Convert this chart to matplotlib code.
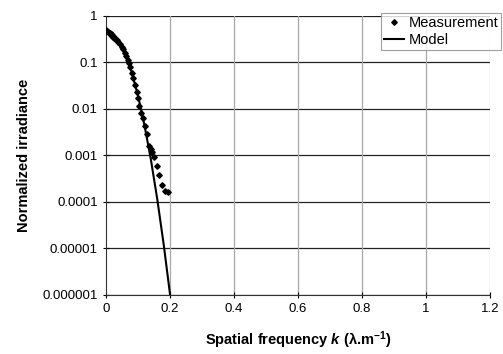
import matplotlib
matplotlib.use("Agg")
from matplotlib import pyplot as plt

plt.rcParams['font.family'] = ['Liberation Sans', 'DejaVu Sans']
plt.rcParams['mathtext.fontset'] = 'custom'
plt.rcParams['mathtext.rm'] = 'Liberation Sans'
plt.rcParams['mathtext.it'] = 'Liberation Sans:italic'
plt.rcParams['mathtext.bf'] = 'Liberation Sans:bold'
plt.rcParams['mathtext.bfit'] = 'Liberation Sans:italic:bold'

# measured points (k, normalized irradiance)
meas_k = [0.0, 0.004, 0.007, 0.011, 0.015, 0.018, 0.022, 0.026, 0.029, 0.033,
          0.038, 0.043, 0.049, 0.054, 0.059, 0.063, 0.067, 0.071, 0.075, 0.080,
          0.085, 0.091, 0.096, 0.100, 0.104, 0.108, 0.115, 0.122, 0.129, 0.135,
          0.139, 0.143, 0.150, 0.158, 0.166, 0.174, 0.184, 0.195]
meas_y = [0.50, 0.48, 0.45, 0.42, 0.39, 0.37, 0.35, 0.33, 0.32, 0.30,
          0.28, 0.25, 0.22, 0.19, 0.16, 0.135, 0.11, 0.095, 0.081, 0.059,
          0.046, 0.033, 0.023, 0.017, 0.0115, 0.0081, 0.0063, 0.0042, 0.0029, 0.0016,
          0.0014, 0.0012, 0.00093, 0.00059, 0.00037, 0.00023, 0.00017, 0.00016]

# model curve
model_k = [0.0, 0.02, 0.04, 0.06, 0.08, 0.10, 0.12, 0.14, 0.16, 0.18, 0.20]
model_y = [0.50, 0.44, 0.30, 0.154, 0.061, 0.0188, 0.0044, 0.00081, 0.000113, 0.0000121, 0.000001]

y_ticks = [1e-6, 1e-5, 1e-4, 1e-3, 1e-2, 1e-1, 1]
y_labels = ["0.000001", "0.00001", "0.0001", "0.001", "0.01", "0.1", "1"]
x_ticks = [0, 0.2, 0.4, 0.6, 0.8, 1, 1.2]
x_labels = ["0", "0.2", "0.4", "0.6", "0.8", "1", "1.2"]

fig = plt.figure(figsize=(5.03, 3.54), dpi=100)
ax = fig.add_axes([0.211, 0.167, 0.763, 0.788])

ax.set_yscale('log')
ax.set_xlim(0, 1.2)
ax.set_ylim(1e-6, 1)

# gridlines: black horizontal, grey vertical
for yv in y_ticks:
    ax.axhline(yv, color='#222222', lw=0.9, zorder=1)
for xv in x_ticks[1:]:
    ax.axvline(xv, color='#a8a8a8', lw=0.9, zorder=1)

ax.plot(model_k, model_y, color='black', lw=1.5, label='Model', zorder=3)
ax.plot(meas_k, meas_y, linestyle='None', marker='D', markersize=2.8,
        color='black', label='Measurement', zorder=4)

ax.set_yticks(y_ticks)
ax.set_yticklabels(y_labels)
ax.minorticks_off()
ax.set_xticks(x_ticks)
ax.set_xticklabels(x_labels)
ax.tick_params(axis='both', direction='inout', length=5, width=0.8,
               labelsize=9.5, colors='black')

for s in ['top', 'right']:
    ax.spines[s].set_visible(False)
ax.spines['left'].set_color('#333333')
ax.spines['bottom'].set_color('#333333')

ax.set_ylabel('Normalized irradiance', fontsize=10.5, fontweight='bold', labelpad=8)
ax.set_xlabel(r'Spatial frequency $\mathbfit{k}$ (λ.m$^{\mathbf{-1}}$)',
              fontsize=10.5, fontweight='bold', labelpad=10)

handles, labels = ax.get_legend_handles_labels()
leg = ax.legend(handles[::-1], labels[::-1], loc='upper right',
                bbox_to_anchor=(1.03, 1.01), fontsize=10.5, frameon=True,
                fancybox=False, edgecolor='#888888', borderpad=0.2,
                handlelength=1.4, handletextpad=0.3, labelspacing=0.2,
                borderaxespad=0)
leg.get_frame().set_linewidth(0.8)

fig.savefig('out.png', dpi=100)
